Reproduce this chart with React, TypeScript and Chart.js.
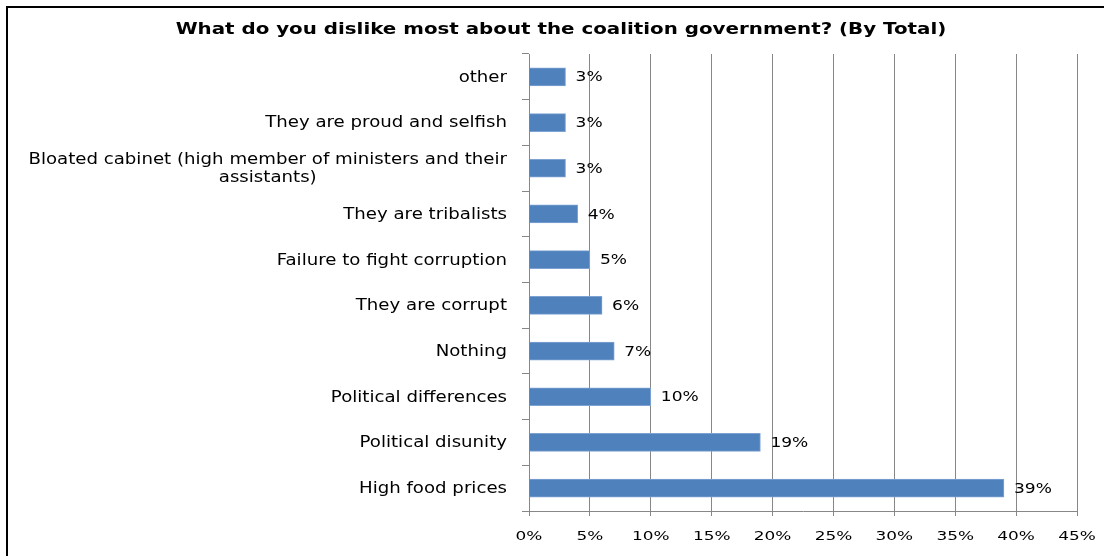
import React, { useEffect, useRef } from "react";
import { Chart, registerables } from "chart.js";

Chart.register(...registerables);

const TITLE = "What do you dislike most about the coalition government? (By Total)";
const categories: (string | string[])[] = [
  "other",
  "They are proud and selfish",
  ["Bloated cabinet (high member of ministers and their", "assistants)"],
  "They are tribalists",
  "Failure to fight corruption",
  "They are corrupt",
  "Nothing",
  "Political differences",
  "Political disunity",
  "High food prices",
];
const values = [3, 3, 3, 4, 5, 6, 7, 10, 19, 39];
const xMin = 0;
const xMax = 45;
const xStep = 5;

const FONT = "'DejaVu Sans', sans-serif";
const GRID = "#878787";
const BAR = "#4F81BD";

function stretchText(ctx: any, text: string, x: number, y: number, sx: number) {
  ctx.save();
  ctx.translate(x, y);
  ctx.scale(sx, 1);
  ctx.fillText(text, 0, 0);
  ctx.restore();
}

export default function App() {
  const ref = useRef<HTMLCanvasElement | null>(null);
  useEffect(() => {
    if (!ref.current) return;
    const framePlugin = {
      id: "frame",
      beforeDraw(chart: any) {
        const ctx = chart.ctx;
        ctx.save();
        ctx.fillStyle = "#fff";
        ctx.fillRect(0, 0, chart.width, chart.height);
        ctx.restore();
      },
      afterDraw(chart: any) {
        const ctx = chart.ctx;
        ctx.save();
        ctx.strokeStyle = "#000";
        ctx.lineWidth = 2;
        ctx.strokeRect(7, 7, chart.width + 20, chart.height + 20);
        ctx.fillStyle = "#000";
        ctx.font = `bold 16px ${FONT}`;
        ctx.textAlign = "center";
        ctx.textBaseline = "middle";
        stretchText(ctx, TITLE, 561, 30, 1.24);
        ctx.restore();
      },
    };
    const labelPlugin = {
      id: "labels",
      afterDatasetsDraw(chart: any) {
        const ctx = chart.ctx;
        const yScale = chart.scales.y;
        const xScale = chart.scales.x;
        ctx.save();
        ctx.fillStyle = "#000";
        ctx.textBaseline = "middle";
        // category labels
        const sCat = 1.21;
        ctx.font = `15px ${FONT}`;
        const right = yScale.right - 7 - 15;
        categories.forEach((c, i) => {
          const y = yScale.getPixelForValue(i) + 1;
          const lines = Array.isArray(c) ? c : [c];
          const w = Math.max(...lines.map((l) => ctx.measureText(l).width)) * sCat;
          const lh = 18;
          lines.forEach((l, j) => {
            const ly = y + (j - (lines.length - 1) / 2) * lh;
            if (lines.length > 1) {
              ctx.textAlign = "center";
              stretchText(ctx, l, right - w / 2, ly, sCat);
            } else {
              ctx.textAlign = "right";
              stretchText(ctx, l, right, ly, sCat);
            }
          });
        });
        // x tick labels
        ctx.font = `13px ${FONT}`;
        ctx.textAlign = "center";
        xScale.ticks.forEach((t: any) => {
          const x = xScale.getPixelForValue(t.value);
          stretchText(ctx, t.value + "%", x, 537, 1.3);
        });
        // data labels
        ctx.font = `14px ${FONT}`;
        ctx.textAlign = "left";
        const meta = chart.getDatasetMeta(0);
        meta.data.forEach((bar: any, i: number) => {
          stretchText(ctx, values[i] + "%", bar.x + 10, bar.y + 1, 1.22);
        });
        ctx.restore();
      },
    };
    const chart = new Chart(ref.current, {
      type: "bar",
      data: {
        labels: categories as any,
        datasets: [
          {
            data: values,
            backgroundColor: BAR,
            borderColor: "#7EA3D3",
            borderWidth: 1,
            barThickness: 18,
          },
        ],
      },
      options: {
        indexAxis: "y",
        responsive: false,
        animation: false,
        layout: { padding: { top: 54, right: 27, left: 0, bottom: 0 } },
        plugins: {
          legend: { display: false },
          tooltip: { enabled: false },
          title: { display: false },
        },
        scales: {
          x: {
            min: xMin,
            max: xMax,
            ticks: {
              display: false,
              stepSize: xStep,
              callback: (v: any) => v + "%",
            },
            grid: { color: GRID, tickLength: 5, drawTicks: true },
            border: { display: true, color: GRID },
            afterFit(scale: any) {
              scale.height = 45;
            },
          },
          y: {
            ticks: { display: false },
            grid: {
              drawOnChartArea: false,
              drawTicks: true,
              tickLength: 7,
              color: GRID,
              offset: true,
            },
            border: { display: true, color: GRID },
            afterFit(scale: any) {
              scale.width = 529;
            },
          },
        },
      },
      plugins: [framePlugin, labelPlugin],
    });
    return () => chart.destroy();
  }, []);
  return (
    <div style={{ position: "absolute", left: 0, top: 0, width: 1104, height: 556 }}>
      <canvas ref={ref} width={1104} height={556} style={{ width: 1104, height: 556 }} />
    </div>
  );
}
